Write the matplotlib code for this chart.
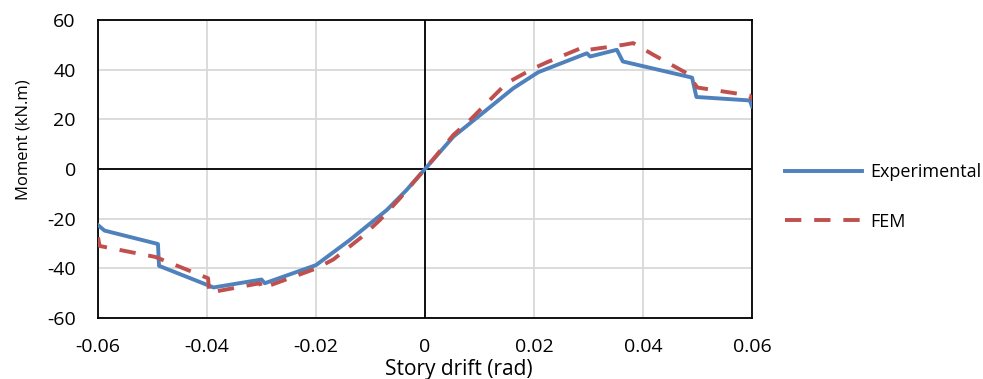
import matplotlib
matplotlib.use("Agg")
import matplotlib.pyplot as plt

plt.rcParams['font.family'] = ['Open Sans', 'DejaVu Sans']
plt.rcParams['axes.unicode_minus'] = False

# story drift (rad) / moment (kN.m)
exp_x = [-0.0600, -0.0588, -0.0490, -0.0488, -0.0388, -0.0300, -0.0294, -0.0200,
         -0.0138, -0.0070, -0.0034, 0.0, 0.0052, 0.0113, 0.0162, 0.0208,
         0.0297, 0.0303, 0.0352, 0.0363, 0.0490, 0.0498, 0.0596, 0.0600]
exp_y = [-22.6, -24.8, -30.2, -39.0, -47.7, -44.5, -46.0, -38.7,
         -28.6, -16.5, -8.5, 0.0, 13.0, 23.8, 32.5, 39.0,
         46.6, 45.3, 48.0, 43.3, 36.8, 29.0, 27.6, 25.2]

fem_x = [-0.0600, -0.0597, -0.0495, -0.0398, -0.0396, -0.0303, -0.0300, -0.0199,
         -0.0168, -0.0119, -0.0083, -0.0046, 0.0, 0.0052, 0.0083, 0.0119,
         0.0150, 0.0199, 0.0223, 0.0292, 0.0300, 0.0364, 0.0382, 0.0419,
         0.0480, 0.0500, 0.0596, 0.0600]
fem_y = [-27.5, -31.0, -35.4, -44.0, -49.8, -46.0, -48.1, -40.0,
         -36.4, -27.9, -20.6, -11.8, 0.0, 13.7, 19.8, 27.8,
         34.6, 40.5, 42.9, 49.2, 48.0, 50.0, 50.7, 46.0,
         38.6, 32.8, 29.6, 27.8]

x_ticks = [-0.06, -0.04, -0.02, 0, 0.02, 0.04, 0.06]
x_labels = ['-0.06', '-0.04', '-0.02', '0', '0.02', '0.04', '0.06']
y_ticks = [-60, -40, -20, 0, 20, 40, 60]
y_labels = ['-60', '-40', '-20', '0', '20', '40', '60']

blue = '#4F81BD'
red = '#C0504D'

fig = plt.figure(figsize=(9.83, 3.79), dpi=100)
ax = fig.add_axes([98/983, 1-318/379, (752-98)/983, (318-20)/379])

ax.grid(True, color='#D9D9D9', linewidth=1.3)
ax.set_axisbelow(True)
ax.axhline(0, color='black', linewidth=1.3, zorder=1.5)
ax.axvline(0, color='black', linewidth=1.3, zorder=1.5)

ax.plot(exp_x, exp_y, color=blue, linewidth=2.8, label='Experimental', zorder=3)
ax.plot(fem_x, fem_y, color=red, linewidth=2.8, linestyle=(0, (4.2, 3.3)),
        label='FEM', zorder=3)

ax.set_xlim(-0.06, 0.06)
ax.set_ylim(-60, 60)
ax.set_xticks(x_ticks)
ax.set_xticklabels(x_labels)
ax.set_yticks(y_ticks)
ax.set_yticklabels(y_labels)
ax.tick_params(axis='both', length=0, labelsize=14)
ax.tick_params(axis='x', pad=14.5)
ax.tick_params(axis='y', pad=16)
for s in ax.spines.values():
    s.set_color('black')
    s.set_linewidth(1.3)

# axis titles sit a little off-centre in the original
ax.set_xlabel('Story drift (rad)', fontsize=15)
ax.xaxis.set_label_coords(0.551, -0.137)
ax.set_ylabel('Moment (kN.m)', fontsize=12)
ax.yaxis.set_label_coords(-0.102, 0.597)

fig.legend(loc='center left', bbox_to_anchor=(785/983, 1-197/379), frameon=False,
           fontsize=13, borderpad=0, borderaxespad=0, handlelength=4.25,
           handletextpad=0.45, labelspacing=1.75)

fig.savefig('out.png', dpi=100)
